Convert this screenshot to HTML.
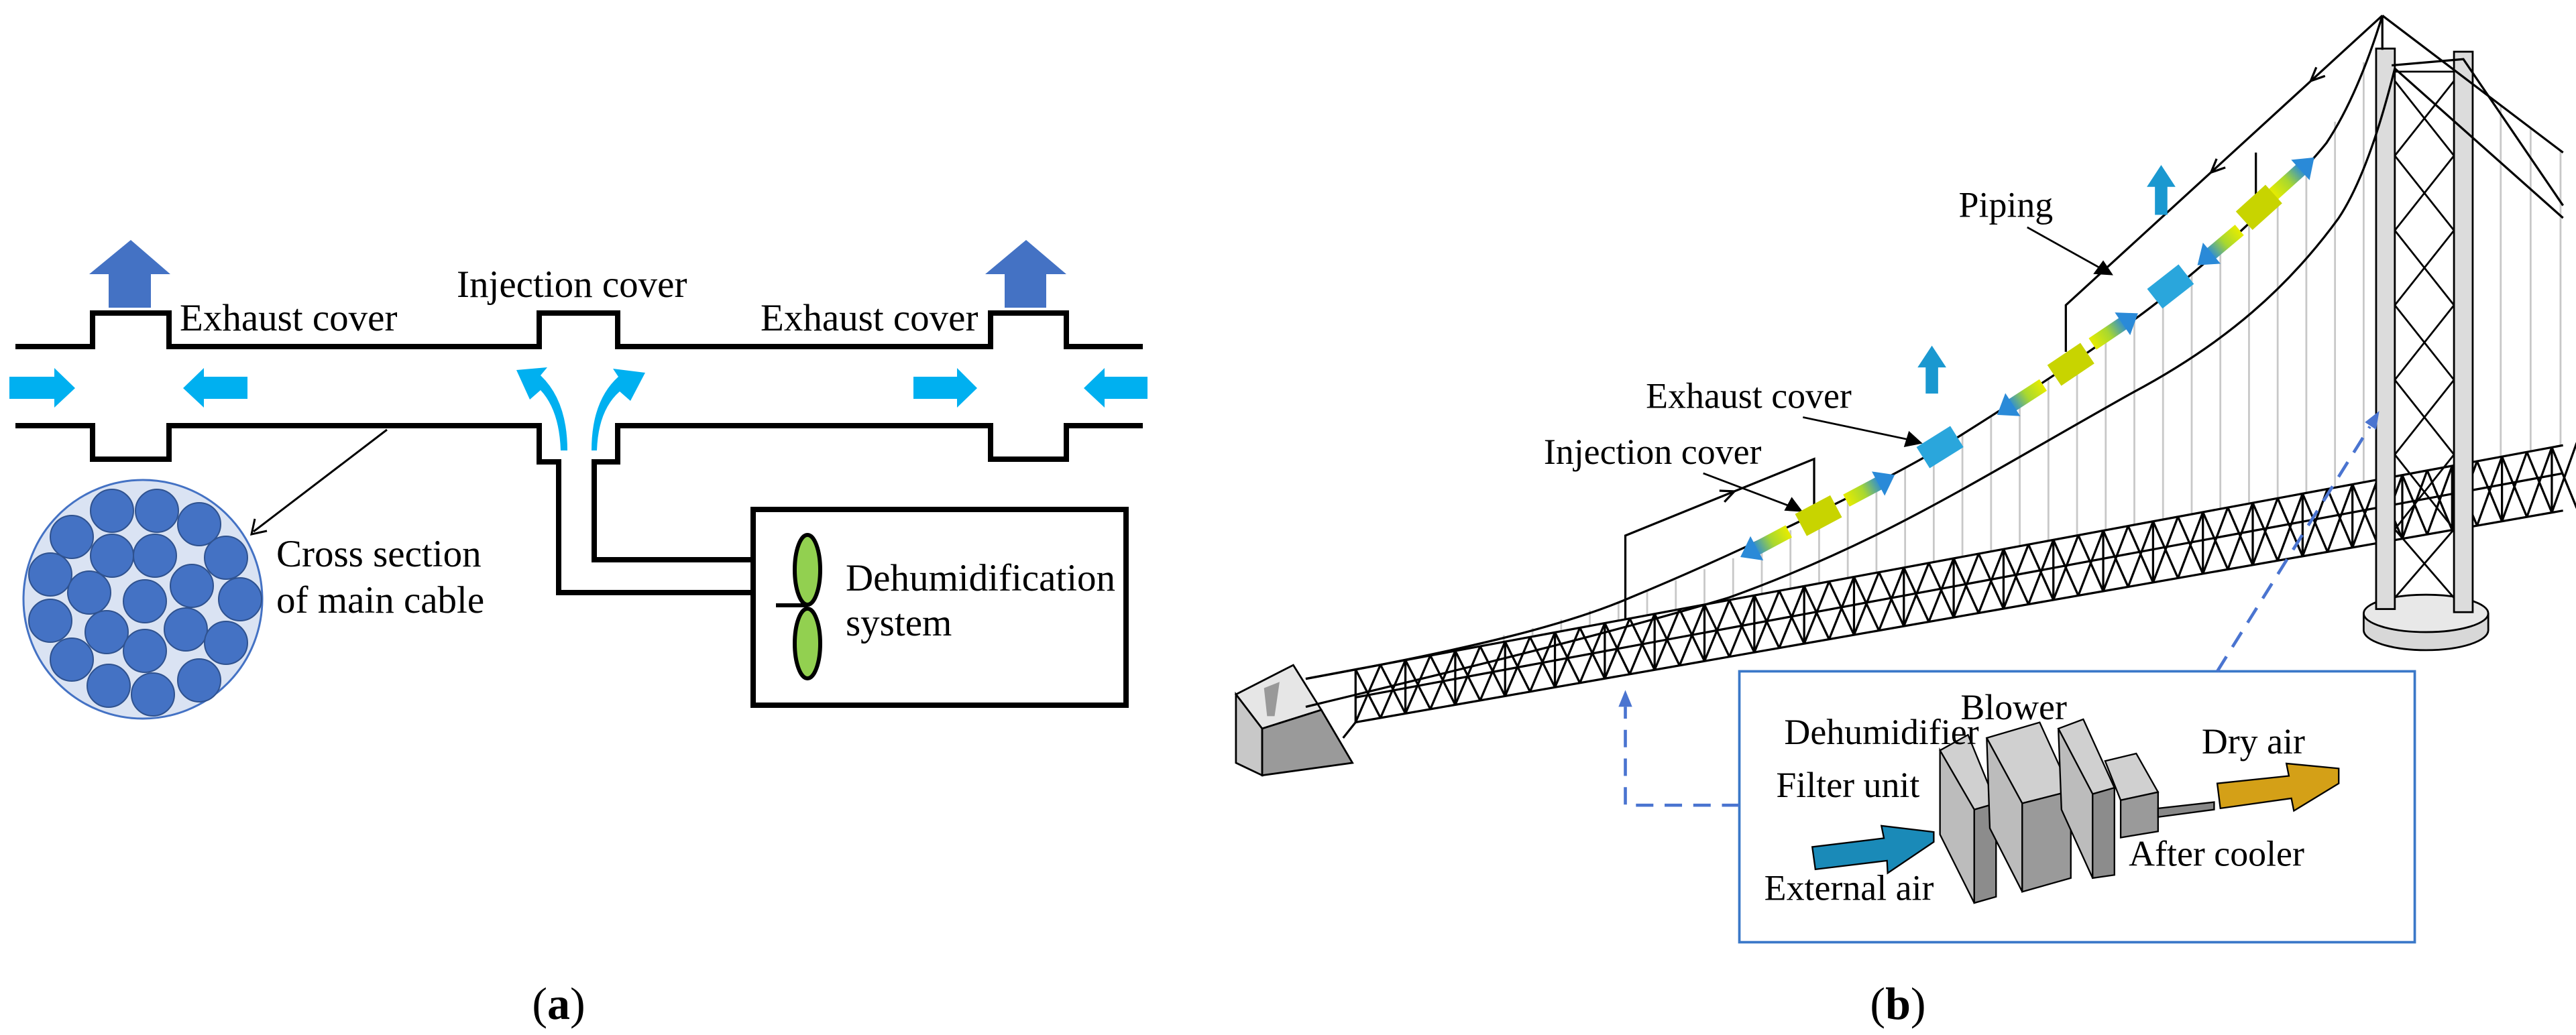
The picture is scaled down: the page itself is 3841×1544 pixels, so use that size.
<!DOCTYPE html>
<html><head><meta charset="utf-8"><style>
html,body{margin:0;padding:0;background:#fff}
svg{display:block}
text{font-family:"Liberation Serif",serif;fill:#000}
</style></head><body>
<svg id="s" width="3841" height="1544" viewBox="0 0 3841 1544" xmlns="http://www.w3.org/2000/svg">
<defs>
<linearGradient id="gy" x1="0" x2="1" y1="0" y2="0"><stop offset="0" stop-color="#e6ec00"/><stop offset="0.5" stop-color="#a8d830"/><stop offset="1" stop-color="#2a8ad8"/></linearGradient>
</defs>
<g fill="none" stroke="#000" stroke-width="8" stroke-linejoin="miter">
<polyline points="23,517 138,517 138,467 252,467 252,517 804,517 804,467 921,467 921,517 1477,517 1477,467 1590,467 1590,517 1704,517"/>
<polyline points="23,635 138,635 138,685 252,685 252,635 804,635 804,689 833,689 833,884 1123,884"/>
<polyline points="1123,835 886,835 886,689 921,689 921,635 1477,635 1477,685 1590,685 1590,635 1704,635"/>
<rect x="1123" y="760" width="556" height="292"/>
</g>
<polygon points="195,358 254,409 225,409 225,459 162,459 162,409 133,409" fill="#4472c4"/>
<polygon points="1530,358 1590,409 1560,409 1560,459 1498,459 1498,409 1469,409" fill="#4472c4"/>
<g fill="#00b0f0">
<polygon points="14,562 81,562 81,549 112,579 81,608 81,595 14,595"/>
<polygon points="369,562 304,562 304,549 273,579 304,608 304,595 369,595"/>
<polygon points="1362,562 1427,562 1427,549 1457,579 1427,608 1427,595 1362,595"/>
<polygon points="1711,562 1647,562 1647,549 1616,579 1647,608 1647,595 1711,595"/>
<path d="M836,672 Q834,612 806,582 L790,596 L770,552 L816,548 L806,560 Q846,598 846,672 Z"/>
<path d="M890,672 Q892,612 924,584 L940,598 L962,556 L914,550 L922,562 Q882,598 882,672 Z"/>
</g>
<line x1="577" y1="641" x2="378" y2="793" stroke="#000" stroke-width="3"/>
<polyline points="380,774 375,797 398,792" fill="none" stroke="#000" stroke-width="3"/>
<circle cx="213" cy="894" r="178" fill="#dae3f3" stroke="#4472c4" stroke-width="3"/>
<g fill="#4472c4" stroke="#2f528f" stroke-width="2">
<circle cx="167" cy="762" r="32"/><circle cx="234" cy="762" r="32"/><circle cx="297" cy="782" r="32"/><circle cx="107" cy="801" r="32"/><circle cx="167" cy="829" r="32"/><circle cx="231" cy="829" r="32"/><circle cx="337" cy="832" r="32"/><circle cx="75" cy="857" r="32"/><circle cx="133" cy="884" r="32"/><circle cx="216" cy="897" r="32"/><circle cx="286" cy="874" r="32"/><circle cx="358" cy="894" r="32"/><circle cx="75" cy="926" r="32"/><circle cx="159" cy="943" r="32"/><circle cx="277" cy="939" r="32"/><circle cx="337" cy="959" r="32"/><circle cx="107" cy="984" r="32"/><circle cx="216" cy="971" r="32"/><circle cx="162" cy="1023" r="32"/><circle cx="228" cy="1036" r="32"/><circle cx="297" cy="1015" r="32"/>
</g>
<line x1="1157" y1="903" x2="1204" y2="903" stroke="#000" stroke-width="6"/>
<ellipse cx="1204" cy="850" rx="19" ry="52" fill="#92d050" stroke="#000" stroke-width="6"/>
<ellipse cx="1204" cy="960" rx="19" ry="52" fill="#92d050" stroke="#000" stroke-width="6"/>
<g font-size="57">
<text x="268" y="493">Exhaust cover</text>
<text x="681" y="443">Injection cover</text>
<text x="1134" y="493">Exhaust cover</text>
<text x="412" y="845">Cross section</text>
<text x="412" y="914">of main cable</text>
<text x="1261" y="881">Dehumidification</text>
<text x="1261" y="948">system</text>
</g>
<text x="833" y="1520" font-size="68" text-anchor="middle">(<tspan font-weight="bold">a</tspan>)</text>
<text x="2830" y="1520" font-size="68" text-anchor="middle">(<tspan font-weight="bold">b</tspan>)</text>

<g transform="translate(2391,0) scale(0.929)">
<g id="hang" stroke="#c8c8c8" stroke-width="3"></g>
<polygon points="-590,1115 -498,1068 -453,1140 -548,1170" fill="#e6e6e6" stroke="#000" stroke-width="3"/>
<polygon points="-548,1170 -453,1140 -403,1225 -548,1245" fill="#9a9a9a" stroke="#000" stroke-width="3"/>
<polygon points="-590,1115 -548,1170 -548,1245 -590,1225" fill="#c8c8c8" stroke="#000" stroke-width="3"/>
<polygon points="-545,1105 -520,1095 -528,1150 -540,1150" fill="#999"/>
<g id="truss" stroke="#000" stroke-width="3.5" fill="none"></g>
<ellipse cx="1320" cy="1012" rx="100" ry="32" fill="#d8d8d8" stroke="#000" stroke-width="3"/>
<rect x="1220" y="985" width="200" height="27" fill="#d8d8d8"/>
<ellipse cx="1320" cy="985" rx="100" ry="30" fill="#e8e8e8" stroke="#000" stroke-width="3"/>
<line x1="1220" y1="985" x2="1220" y2="1012" stroke="#000" stroke-width="3"/>
<line x1="1420" y1="985" x2="1420" y2="1012" stroke="#000" stroke-width="3"/>
<g stroke="#000" stroke-width="3" fill="none">
<polyline points="1270,130 1365,250 1270,370 1365,490 1270,610 1365,730 1270,850 1365,960"/>
<polyline points="1365,130 1270,250 1365,370 1270,490 1365,610 1270,730 1365,850 1270,960"/>
<line x1="1270" y1="115" x2="1365" y2="115"/>
</g>
<rect x="1240" y="78" width="30" height="900" fill="#dcdcdc" stroke="#000" stroke-width="3"/>
<rect x="1365" y="83" width="30" height="900" fill="#dcdcdc" stroke="#000" stroke-width="3"/>
<g fill="none" stroke="#000" stroke-width="3.5">
<path d="M-478,1090 C-200,1040 -50,1000 42,960 C200,895 420,790 540,720 C700,620 850,520 920,460 C1030,370 1120,280 1160,230 C1200,170 1230,90 1250,25"/>
<path d="M-478,1135 C-250,1080 0,1020 200,960 C450,870 600,770 850,630 C1000,550 1100,460 1180,350 C1220,290 1250,190 1270,110"/>
<polyline points="1250,25 1540,245"/>
<polyline points="1265,105 1380,95 1540,330"/>
<polyline points="1270,110 1540,350"/>
<line x1="1250" y1="25" x2="1250" y2="80"/>
<polyline points="35,995 35,860 338,737 338,810"/>
<polyline points="742,565 742,490 1250,25"/>
<polyline points="1047,245 1047,320"/>
<polyline points="194,806 210,789 186,788"/>
<polyline points="998,269 975,277 984,255"/>
<polyline points="1158,122 1135,130 1144,108"/>
</g>
<g stroke="#000" stroke-width="3">
<line x1="160" y1="760" x2="305" y2="815"/>
<line x1="320" y1="670" x2="495" y2="707"/>
<line x1="680" y1="365" x2="800" y2="432"/>
</g>
<polygon points="320,822 290,820 302,798" fill="#000"/>
<polygon points="512,712 482,718 490,692" fill="#000"/>
<polygon points="818,442 786,440 802,418" fill="#000"/>
<g>
<g transform="translate(262,872) rotate(152)"><rect x="-40" y="-11" width="62" height="22" fill="url(#gy)"/><polygon points="18,-22 48,0 18,22" fill="#2a8ad8"/></g>
<g transform="translate(425,785) rotate(-28)"><rect x="-40" y="-11" width="62" height="22" fill="url(#gy)"/><polygon points="18,-22 48,0 18,22" fill="#2a8ad8"/></g>
<g transform="translate(672,640) rotate(147)"><rect x="-40" y="-11" width="62" height="22" fill="url(#gy)"/><polygon points="18,-22 48,0 18,22" fill="#2a8ad8"/></g>
<g transform="translate(818,530) rotate(-34)"><rect x="-40" y="-11" width="62" height="22" fill="url(#gy)"/><polygon points="18,-22 48,0 18,22" fill="#2a8ad8"/></g>
<g transform="translate(990,395) rotate(140)"><rect x="-40" y="-11" width="62" height="22" fill="url(#gy)"/><polygon points="18,-22 48,0 18,22" fill="#2a8ad8"/></g>
<g transform="translate(1105,285) rotate(-42)"><rect x="-40" y="-11" width="62" height="22" fill="url(#gy)"/><polygon points="18,-22 48,0 18,22" fill="#2a8ad8"/></g>
</g>
<g transform="translate(345,828) rotate(-28)"><rect x="-32" y="-20" width="64" height="40" fill="#c8d400"/></g>
<g transform="translate(540,718) rotate(-32)"><rect x="-32" y="-20" width="64" height="40" fill="#2aa6dc"/></g>
<g transform="translate(750,585) rotate(-34)"><rect x="-32" y="-20" width="64" height="40" fill="#c8d400"/></g>
<g transform="translate(910,460) rotate(-38)"><rect x="-32" y="-20" width="64" height="40" fill="#2aa6dc"/></g>
<g transform="translate(1052,333) rotate(-42)"><rect x="-32" y="-20" width="64" height="40" fill="#c8d400"/></g>
<polygon points="527,555 550,590 537,590 537,632 517,632 517,590 504,590" fill="#1a98d0"/>
<polygon points="895,265 918,300 905,300 905,345 885,345 885,300 872,300" fill="#1a98d0"/>
<g font-size="58">
<text x="570" y="348">Piping</text>
<text x="68" y="655">Exhaust cover</text>
<text x="-96" y="745">Injection cover</text>
</g>
<rect x="218" y="1078" width="1084" height="435" fill="none" stroke="#3a78c8" stroke-width="4"/>
<g stroke="#4a74d0" stroke-width="5" fill="none" stroke-dasharray="28,18">
<polyline points="218,1293 35,1293 35,1135"/>
<line x1="985" y1="1078" x2="1230" y2="685"/>
</g>
<polygon points="35,1108 24,1135 46,1135" fill="#4a74d0"/>
<polygon points="1245,660 1222,678 1240,690" fill="#4a74d0"/>
<g stroke="#000" stroke-width="2.5">
<polygon points="540,1205 585,1180 630,1290 595,1300" fill="#d0d0d0"/>
<polygon points="540,1205 595,1300 595,1450 540,1340" fill="#bcbcbc"/>
<polygon points="595,1300 630,1290 630,1440 595,1450" fill="#8c8c8c"/>
<polygon points="615,1185 700,1160 750,1270 672,1290" fill="#d0d0d0"/>
<polygon points="615,1185 672,1290 672,1432 620,1330" fill="#bcbcbc"/>
<polygon points="672,1290 750,1270 750,1410 672,1432" fill="#9a9a9a"/>
<polygon points="730,1170 770,1155 820,1265 785,1275" fill="#d0d0d0"/>
<polygon points="730,1170 785,1275 785,1410 735,1300" fill="#bcbcbc"/>
<polygon points="785,1275 820,1265 820,1405 785,1410" fill="#8c8c8c"/>
<polygon points="805,1222 855,1210 890,1272 830,1285" fill="#d0d0d0"/>
<polygon points="830,1285 890,1272 890,1335 830,1345" fill="#9a9a9a"/>
<polygon points="890,1298 980,1288 980,1300 890,1312" fill="#888"/>
<polygon points="985,1258 1100,1246 1096,1226 1180,1234 1180,1258 1108,1302 1104,1282 990,1298" fill="#d4a017"/>
<polygon points="335,1360 450,1346 446,1326 530,1336 530,1352 456,1402 455,1382 340,1396" fill="#1a8ab8"/>
</g>
<g font-size="58">
<text x="573" y="1155">Blower</text>
<text x="290" y="1195">Dehumidifier</text>
<text x="277" y="1280">Filter unit</text>
<text x="258" y="1445">External air</text>
<text x="843" y="1390">After cooler</text>
<text x="960" y="1210">Dry air</text>
</g>
</g>
</svg>
<script>
(function(){
var NS="http://www.w3.org/2000/svg";
function L(g,x1,y1,x2,y2){var l=document.createElementNS(NS,"line");l.setAttribute("x1",x1);l.setAttribute("y1",y1);l.setAttribute("x2",x2);l.setAttribute("y2",y2);g.appendChild(l);}
var up=[[-478,1090],[-300,1055],[-100,1005],[42,960],[225,890],[400,800],[540,720],[760,580],[920,460],[1040,355],[1140,255],[1200,150],[1250,25]];
function uy(x){for(var i=0;i<up.length-1;i++){if(x>=up[i][0]&&x<=up[i+1][0]){var t=(x-up[i][0])/(up[i+1][0]-up[i][0]);return up[i][1]+t*(up[i+1][1]-up[i][1]);}}return null;}
function T(x){return 1001-0.1857*x;}
function B(x){return 1090-0.1754*x;}
var h=document.getElementById("hang");
for(var x=-160;x<1235;x+=46){var y1=uy(x),y2=T(x);if(y1!==null&&y2>y1+5)L(h,x,y1,x,y2);}
for(var x=1440;x<=1540;x+=48){var y1=25+(x-1250)*0.76;L(h,x,y1,x,T(x));}
var g=document.getElementById("truss");
L(g,-398,T(-398),1540,T(1540));L(g,-398,B(-398),1540,B(1540));
L(g,-398,T(-398)+45,1540,T(1540)+45);
L(g,-478,1090,-398,T(-398));L(g,-418,1185,-398,B(-398));
for(var x=-398;x<1540;x+=80){
 L(g,x,T(x),x+40,B(x+40));L(g,x+40,B(x+40),x+80,T(x+80));
 L(g,x,B(x),x+40,T(x+40));L(g,x+40,T(x+40),x+80,B(x+80));
 L(g,x,T(x),x,B(x));
}
})();
</script>
</body></html>
